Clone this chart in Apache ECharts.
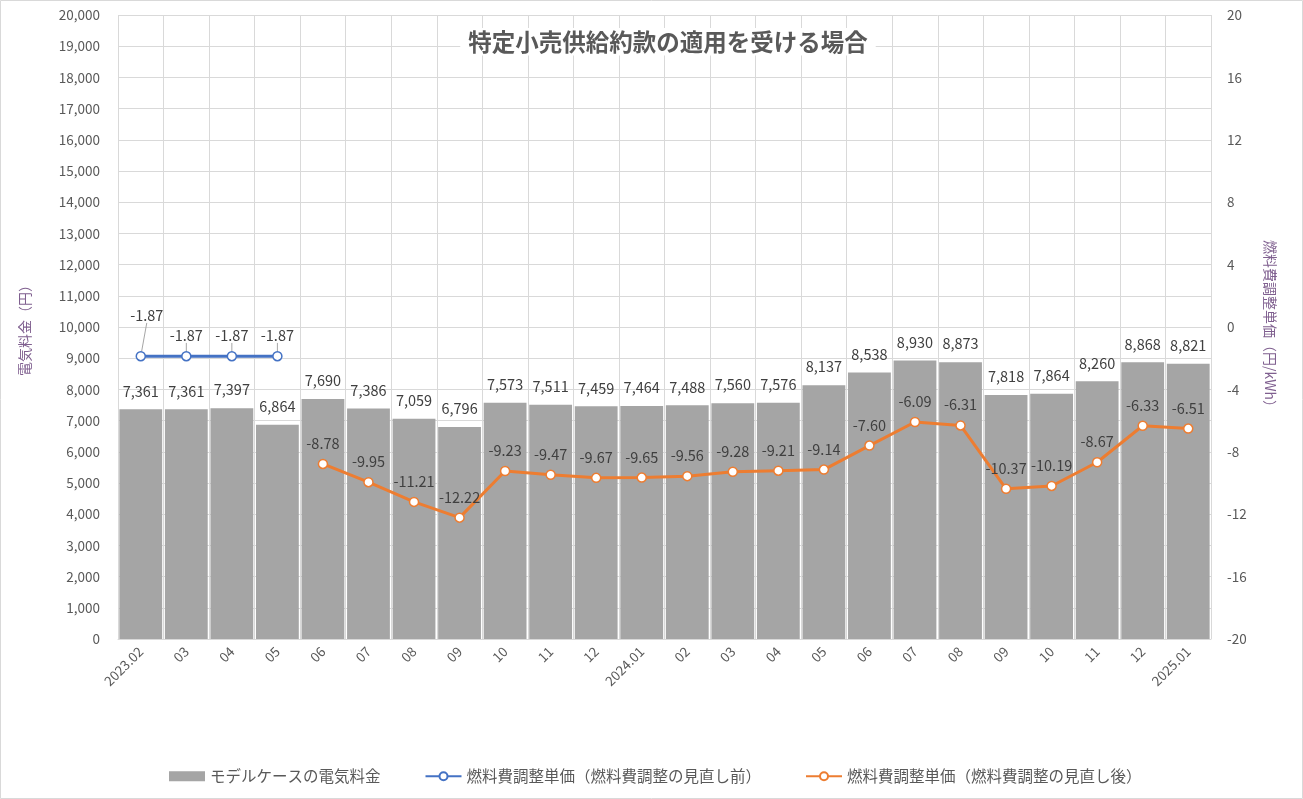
<!DOCTYPE html>
<html><head><meta charset="utf-8">
<script src="https://cdn.jsdelivr.net/npm/echarts@6/dist/echarts.min.js"></script>
<style>html,body{margin:0;padding:0;background:#fff}#c{width:1303px;height:799px}</style>
</head><body><div id="c"></div>
<script>
const categories = ['2023.02','03','04','05','06','07','08','09','10','11','12','2024.01','02','03','04','05','06','07','08','09','10','11','12','2025.01'];
const billValues = [7361,7361,7397,6864,7690,7386,7059,6796,7573,7511,7459,7464,7488,7560,7576,8137,8538,8930,8873,7818,7864,8260,8868,8821];
const unitBefore = [-1.87,-1.87,-1.87,-1.87,null,null,null,null,null,null,null,null,null,null,null,null,null,null,null,null,null,null,null,null];
const unitAfter = [null,null,null,null,-8.78,-9.95,-11.21,-12.22,-9.23,-9.47,-9.67,-9.65,-9.56,-9.28,-9.21,-9.14,-7.60,-6.09,-6.31,-10.37,-10.19,-8.67,-6.33,-6.51];
const seriesNames = ['モデルケースの電気料金','燃料費調整単価（燃料費調整の見直し前）','燃料費調整単価（燃料費調整の見直し後）'];
const F = '"Noto Sans CJK JP","Noto Sans",sans-serif';
const chart = echarts.init(document.getElementById('c'));
chart.setOption({
  backgroundColor:'#fff',
  textStyle:{fontFamily:F},
  title:{text:'特定小売供給約款の適用を受ける場合',left:660,textAlign:'center',top:28,
    backgroundColor:'#fff',padding:[2,8],
    textStyle:{fontFamily:F,fontSize:23.5,fontWeight:'bold',color:'#595959'}},
  legend:{bottom:10,left:164,width:1120,itemGap:44,itemWidth:36,itemHeight:10,
    textStyle:{fontFamily:F,fontSize:15.5,color:'#595959'},
    data:[{name:seriesNames[0],icon:'rect'},seriesNames[1],seriesNames[2]]},
  grid:{left:118,right:92,top:15,bottom:160},
  xAxis:{type:'category',data:categories,boundaryGap:true,
    axisLine:{lineStyle:{color:'#d9d9d9'}},axisTick:{show:false},
    splitLine:{show:true,lineStyle:{color:'#d9d9d9'}},
    axisLabel:{rotate:45,color:'#595959',fontSize:13.5,fontFamily:F,interval:0,margin:10}},
  yAxis:[
    {type:'value',min:0,max:20000,interval:1000,
     name:'電気料金（円）',nameLocation:'middle',nameRotate:90,nameGap:86,
     nameTextStyle:{color:'#7f5f8f',fontSize:14,fontFamily:F},
     axisLabel:{color:'#595959',fontSize:13.5,fontFamily:F,margin:18,
       formatter:v=>v.toLocaleString('en-US')},
     axisLine:{show:false},axisTick:{show:false},
     splitLine:{lineStyle:{color:'#d9d9d9'}}},
    {type:'value',min:-20,max:20,interval:4,
     name:'燃料費調整単価（円/kWh）',nameLocation:'middle',nameRotate:-90,nameGap:52,
     nameTextStyle:{color:'#7f5f8f',fontSize:14,fontFamily:F},
     axisLabel:{color:'#595959',fontSize:13.5,fontFamily:F,margin:16},
     axisLine:{show:false},axisTick:{show:false},splitLine:{show:false}}
  ],
  series:[
    {name:seriesNames[0],type:'bar',data:billValues,yAxisIndex:0,barCategoryGap:'6%',
     itemStyle:{color:'#a5a5a5'},
     label:{show:true,position:'top',distance:11,color:'#404040',fontSize:14.5,fontFamily:F,
       formatter:p=>p.value.toLocaleString('en-US')}},
    {name:seriesNames[1],type:'line',data:unitBefore,yAxisIndex:1,z:5,
     symbol:'circle',symbolSize:9,showAllSymbol:true,
     itemStyle:{color:'#fff',borderColor:'#4472c4',borderWidth:1.5},
     lineStyle:{color:'#4472c4',width:3},
     label:{show:true,position:'top',distance:8,color:'#404040',fontSize:14.5,fontFamily:F,
       formatter:p=>p.value.toFixed(2)},
     labelLine:{show:true,lineStyle:{color:'#a6a6a6',width:1}},
     labelLayout:function(p){ if(p.dataIndex===0){return {dx:6,dy:-20};} return {}; }},
    {name:seriesNames[2],type:'line',data:unitAfter,yAxisIndex:1,z:5,
     symbol:'circle',symbolSize:9,showAllSymbol:true,
     itemStyle:{color:'#fff',borderColor:'#ed7d31',borderWidth:1.5},
     lineStyle:{color:'#ed7d31',width:3},
     label:{show:true,position:'top',distance:8,color:'#404040',fontSize:14.5,fontFamily:F,
       formatter:p=>p.value.toFixed(2)}}
  ],
  graphic:[{type:'rect',shape:{x:0.5,y:0.5,width:1302,height:798},style:{fill:'none',stroke:'#d9d9d9',lineWidth:1},silent:true}]
});
</script></body></html>
